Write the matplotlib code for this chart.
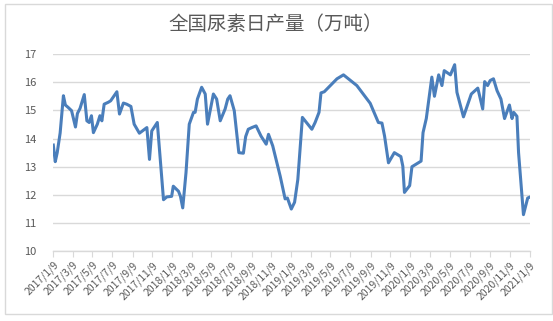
import pandas as pd
import matplotlib
matplotlib.use('Agg')
import matplotlib.pyplot as plt
from matplotlib.patches import Rectangle

plt.rcParams['font.family'] = ['Noto Sans CJK SC', 'DejaVu Sans']

# 1. Data
dates = [
    '2017-01-09', '2017-01-15', '2017-01-21', '2017-01-30', '2017-02-09', '2017-02-15',
    '2017-02-24', '2017-03-06', '2017-03-18', '2017-03-24', '2017-04-01', '2017-04-14',
    '2017-04-22', '2017-04-29', '2017-05-06', '2017-05-12', '2017-05-24', '2017-06-01',
    '2017-06-07', '2017-06-14', '2017-06-27', '2017-07-04', '2017-07-23', '2017-07-31',
    '2017-08-12', '2017-08-22', '2017-09-04', '2017-09-14', '2017-09-30', '2017-10-23',
    '2017-10-31', '2017-11-07', '2017-11-24', '2017-12-13', '2017-12-23', '2018-01-07',
    '2018-01-12', '2018-01-28', '2018-02-03', '2018-02-10', '2018-02-20', '2018-03-02',
    '2018-03-15', '2018-03-20', '2018-03-27', '2018-04-09', '2018-04-20', '2018-04-27',
    '2018-05-15', '2018-05-25', '2018-06-05', '2018-06-20', '2018-06-28', '2018-07-05',
    '2018-07-18', '2018-08-01', '2018-08-15', '2018-08-22', '2018-08-30', '2018-09-10',
    '2018-09-23', '2018-10-08', '2018-10-24', '2018-10-31', '2018-11-13', '2018-12-06',
    '2018-12-21', '2018-12-28', '2019-01-09', '2019-01-19', '2019-01-29', '2019-02-12',
    '2019-03-13', '2019-03-23', '2019-04-04', '2019-04-10', '2019-04-20', '2019-05-29',
    '2019-06-18', '2019-07-29', '2019-09-08', '2019-10-03', '2019-10-14', '2019-10-22',
    '2019-11-03', '2019-11-21', '2019-12-11', '2019-12-17', '2019-12-22', '2020-01-07',
    '2020-01-14', '2020-02-11', '2020-02-17', '2020-02-27', '2020-03-15', '2020-03-23',
    '2020-04-05', '2020-04-15', '2020-04-22', '2020-05-11', '2020-05-24', '2020-05-31',
    '2020-06-20', '2020-07-14', '2020-08-03', '2020-08-18', '2020-08-24', '2020-09-02',
    '2020-09-10', '2020-09-20', '2020-10-01', '2020-10-13', '2020-10-24', '2020-11-08',
    '2020-11-16', '2020-11-21', '2020-12-01', '2020-12-06', '2020-12-21', '2021-01-03',
    '2021-01-11',
]
output = [
    13.77, 13.18, 13.50, 14.20, 15.52, 15.19,
    15.10, 14.99, 14.41, 14.89, 15.07, 15.56,
    14.63, 14.57, 14.81, 14.21, 14.51, 14.81,
    14.63, 15.22, 15.29, 15.34, 15.66, 14.87,
    15.26, 15.22, 15.14, 14.51, 14.19, 14.39,
    13.26, 14.27, 14.57, 11.83, 11.93, 11.95,
    12.31, 12.13, 11.95, 11.54, 12.79, 14.51,
    14.93, 14.93, 15.40, 15.82, 15.58, 14.51,
    15.58, 15.40, 14.63, 15.05, 15.40, 15.52,
    14.99, 13.50, 13.48, 14.07, 14.33, 14.39,
    14.45, 14.09, 13.80, 14.15, 13.74, 12.66,
    11.86, 11.89, 11.50, 11.74, 12.55, 14.75,
    14.33, 14.57, 14.93, 15.62, 15.66, 16.12,
    16.26, 15.88, 15.25, 14.57, 14.55, 14.09,
    13.14, 13.50, 13.36, 13.02, 12.09, 12.33,
    13.00, 13.20, 14.21, 14.71, 16.18, 15.50,
    16.26, 15.88, 16.41, 16.26, 16.62, 15.64,
    14.77, 15.58, 15.79, 15.05, 16.02, 15.88,
    16.06, 16.12, 15.70, 15.40, 14.71, 15.19,
    14.71, 14.93, 14.79, 13.50, 11.30, 11.89,
    11.93,
]
tick_dates = [
    '2017-01-09', '2017-03-09', '2017-05-09', '2017-07-09', '2017-09-09', '2017-11-09',
    '2018-01-09', '2018-03-09', '2018-05-09', '2018-07-09', '2018-09-09', '2018-11-09',
    '2019-01-09', '2019-03-09', '2019-05-09', '2019-07-09', '2019-09-09', '2019-11-09',
    '2020-01-09', '2020-03-09', '2020-05-09', '2020-07-09', '2020-09-09', '2020-11-09',
    '2021-01-09',
]
tick_labels = [
    '2017/1/9', '2017/3/9', '2017/5/9', '2017/7/9', '2017/9/9', '2017/11/9',
    '2018/1/9', '2018/3/9', '2018/5/9', '2018/7/9', '2018/9/9', '2018/11/9',
    '2019/1/9', '2019/3/9', '2019/5/9', '2019/7/9', '2019/9/9', '2019/11/9',
    '2020/1/9', '2020/3/9', '2020/5/9', '2020/7/9', '2020/9/9', '2020/11/9',
    '2021/1/9',
]
y_ticks = [10, 11, 12, 13, 14, 15, 16, 17]
title = '全国尿素日产量（万吨）'

x = pd.to_datetime(dates)
xt = pd.to_datetime(tick_dates)

# 2. Figure
W, H = 553, 321
fig = plt.figure(figsize=(W / 100, H / 100), dpi=100)
fig.patches.append(Rectangle((5 / W, 7 / H), 546.5 / W, 310 / H, transform=fig.transFigure,
                             fill=False, edgecolor='#d9d9d9', linewidth=1))
ax = fig.add_axes([53.3 / W, (H - 251.3) / H, (530.3 - 53.3) / W, (251.3 - 54) / H])

ax.plot(x, output, color='#4a7ebb', linewidth=2.2, solid_joinstyle='round')

ax.set_ylim(10, 17)
ax.set_xlim(pd.Timestamp('2017-01-09'), pd.Timestamp('2021-01-11'))
ax.set_yticks(y_ticks)
ax.set_yticklabels([str(v) for v in y_ticks], fontsize=8, color='#595959')
ax.set_xticks(xt)
ax.set_xticklabels(tick_labels, rotation=45, ha='right', rotation_mode='anchor',
                   fontsize=7.5, color='#595959')
ax.tick_params(axis='y', length=0, pad=12)
ax.tick_params(axis='x', length=4, color='#d9d9d9', pad=2)
ax.grid(axis='y', color='#d9d9d9', linewidth=1)
ax.set_axisbelow(True)
for s in ['left', 'right', 'top']:
    ax.spines[s].set_visible(False)
ax.spines['bottom'].set_color('#d9d9d9')
ax.spines['bottom'].set_linewidth(1)

fig.text(275.5 / W, (H - 24) / H, title, ha='center', va='center', fontsize=14, color='#595959')

fig.savefig('out.png', dpi=100)
